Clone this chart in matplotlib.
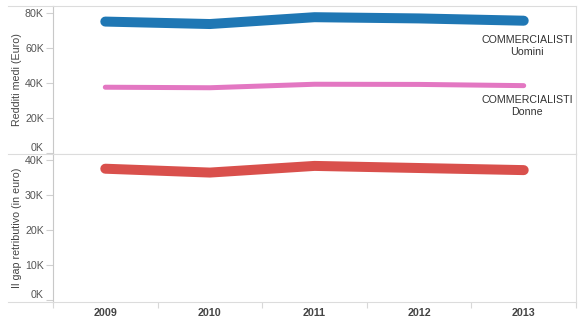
import matplotlib
matplotlib.use('Agg')
import matplotlib.pyplot as plt
from matplotlib.lines import Line2D

# data (thousands of euro)
years = ['2009', '2010', '2011', '2012', '2013']
uomini = [74.9, 73.5, 77.4, 76.7, 75.4]
donne = [37.4, 37.1, 39.1, 39.0, 38.3]
gap = [37.5, 36.4, 38.3, 37.7, 37.1]

top_ticks = [0, 20, 40, 60, 80]
bottom_ticks = [0, 10, 20, 30, 40]

W, H = 588, 323
FS = 7.7
plt.rcParams['font.family'] = ['Liberation Sans', 'DejaVu Sans']

fig = plt.figure(figsize=(W / 100, H / 100), dpi=100)


def box(left, top, right, bottom):
    return [left / W, 1 - bottom / H, (right - left) / W, (bottom - top) / H]


ax1 = fig.add_axes(box(53, 6, 576, 154))
ax2 = fig.add_axes(box(53, 154, 576, 301.5))

x = list(range(len(years)))
ax1.plot(x, uomini, color='#1f77b4', lw=7.2, solid_capstyle='round', solid_joinstyle='round')
ax1.plot(x, donne, color='#e377c2', lw=3.6, solid_capstyle='round', solid_joinstyle='round')
ax2.plot(x, gap, color='#d9504c', lw=7.2, solid_capstyle='round', solid_joinstyle='round')

ax1.set_ylim(-0.75, 83.8)
ax2.set_ylim(-0.4, 41.7)

for ax, ticks in ((ax1, top_ticks), (ax2, bottom_ticks)):
    ax.set_xlim(-0.5, len(years) - 0.5)
    ax.set_yticks(ticks)
    ax.set_yticklabels(['%dK' % t for t in ticks])
    ax.tick_params(axis='y', length=5, width=0.8, color='#d0d0d0', pad=1.5,
                   labelsize=FS, labelcolor='#555555')
    for s in ax.spines.values():
        s.set_color('#dcdcdc')
        s.set_linewidth(0.8)
    ax.spines['left'].set_color('#c8c8c8')
    # the 0K label sits above its tick
    ax.get_yticklabels()[0].set_verticalalignment('bottom')

ax1.set_xticks([])
ax2.set_xticks(x)
ax2.set_xticklabels(years)
ax2.set_xticks([i - 0.5 for i in range(len(years) + 1)], minor=True)
ax2.tick_params(axis='x', which='major', length=0, pad=5, labelsize=FS, labelcolor='#444444')
ax2.tick_params(axis='x', which='minor', length=4, width=0.8, color='#d8d8d8')
for lab in ax2.get_xticklabels():
    lab.set_fontweight('bold')

fig.text(17 / W, 1 - 80 / H, 'Redditi medi (Euro)', rotation=90, ha='center', va='center',
         fontsize=FS, color='#444444')
fig.text(17 / W, 1 - 228 / H, 'Il gap retributivo (in euro)', rotation=90, ha='center',
         va='center', fontsize=FS, color='#444444')

ax1.annotate('COMMERCIALISTI\nUomini', xy=(4, uomini[-1]), xytext=(2.5, -10),
             textcoords='offset points', ha='center', va='top', fontsize=FS,
             color='#333333', linespacing=1.25)
ax1.annotate('COMMERCIALISTI\nDonne', xy=(4, donne[-1]), xytext=(2.5, -7),
             textcoords='offset points', ha='center', va='top', fontsize=FS,
             color='#333333', linespacing=1.25)

# separator lines reaching into the label area
for yy in (6, 154, 301.5):
    fig.add_artist(Line2D([8 / W, 53 / W], [1 - yy / H, 1 - yy / H],
                          color='#dcdcdc', lw=0.8))

fig.savefig('out.png', dpi=100)
